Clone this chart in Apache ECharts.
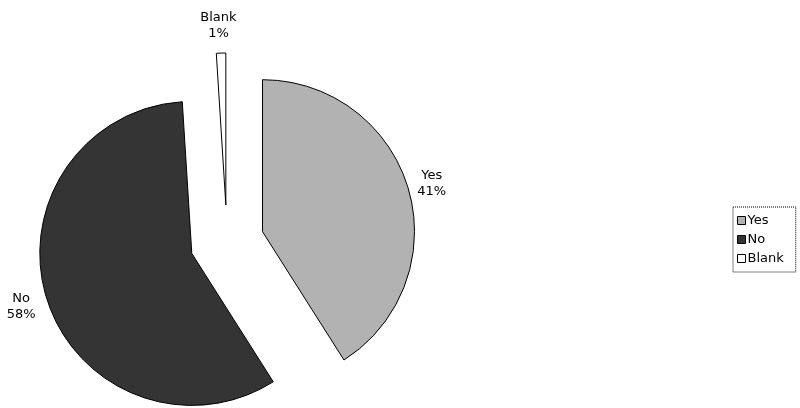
<!DOCTYPE html>
<html><head><meta charset="utf-8">
<script src="https://cdn.jsdelivr.net/npm/echarts@6/dist/echarts.min.js"></script>
<style>html,body{margin:0;padding:0;background:#fff}#c{width:800px;height:408px}</style>
</head><body><div id="c"></div>
<script>
const categories = ['Yes', 'No', 'Blank'];
const values = [41, 58, 1];
const colors = ['#b2b2b2', '#343434', '#ffffff'];

const chart = echarts.init(document.getElementById('c'), null, {renderer: 'canvas'});
const font = '"DejaVu Sans", Verdana, sans-serif';
chart.setOption({
  animation: false,
  backgroundColor: '#fff',
  legend: {
    orient: 'vertical',
    left: 733, top: 207,
    itemWidth: 8, itemHeight: 8, itemGap: 6,
    padding: [7, 12, 7, 4],
    borderColor: '#000', borderWidth: 1, borderType: 'dotted',
    icon: 'rect',
    itemStyle: {borderColor: '#000', borderWidth: 1},
    textStyle: {fontFamily: font, fontSize: 13, color: '#000', padding: [0, 0, 0, -3]},
    data: categories,
    selectedMode: false
  },
  series: [{
    type: 'pie',
    center: [227, 242],
    radius: [0, 152],
    startAngle: 90,
    clockwise: true,
    selectedMode: 'multiple',
    selectedOffset: 37,
    avoidLabelOverlap: false,
    silent: true,
    itemStyle: {borderColor: '#000', borderWidth: 1},
    select: {itemStyle: {borderColor: '#000', borderWidth: 1}},
    label: {
      show: true, position: 'outside',
      formatter: '{b}\n{d}%',
      fontFamily: font, fontSize: 13, color: '#000', lineHeight: 16
    },
    labelLine: {show: false, length: 19, length2: 0},
    labelLayout: function (p) {
      return p.dataIndex === 2 ? {align: 'center', dy: -8, dx: 3} : (p.dataIndex === 1 ? {align: 'center', dx: -3} : {align: 'center'});
    },
    data: categories.map((c, i) => ({
      name: c, value: values[i], selected: true,
      itemStyle: {color: colors[i]}
    }))
  }]
});
</script></body></html>
